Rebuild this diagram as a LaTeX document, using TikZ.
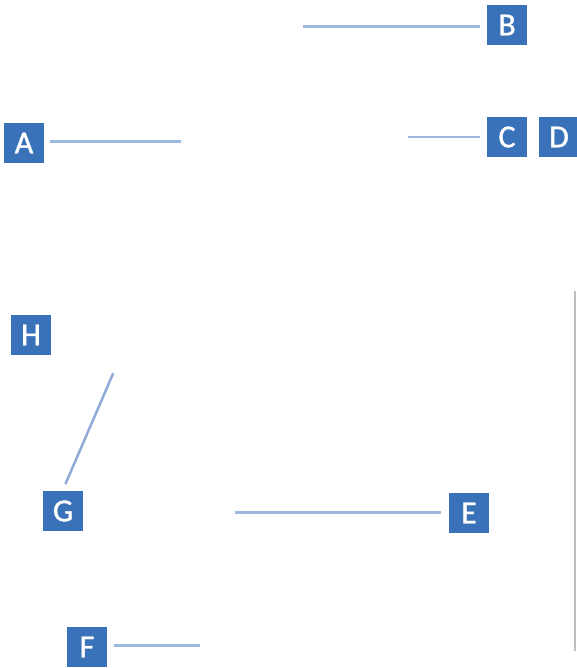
\documentclass[tikz,border=0pt]{standalone}
\usepackage{fontspec}
\setmainfont{Carlito}
\newfontfamily\tagfont[FakeBold=1.2]{Carlito}

\definecolor{tagblue}{HTML}{3A72B9}
\definecolor{leadblue}{HTML}{9DB8DF}
\definecolor{slantblue}{HTML}{91AADA}
\definecolor{rulegray}{HTML}{BDBDBD}

\begin{document}
\begin{tikzpicture}[x=1pt,y=-1pt,
  tag/.style={fill=tagblue,text=white,font=\tagfont\fontsize{32}{32}\selectfont,
              minimum size=40pt,inner sep=0pt},
  leader/.style={draw=leadblue,line width=2.5pt}]
  \useasboundingbox (0,0) rectangle (576,668);

  \node[tag] (A) at (24,143)  {A};
  \node[tag] (B) at (507,25)  {B};
  \node[tag] (C) at (507,137) {C};
  \node[tag] (D) at (559,137) {D};
  \node[tag] (E) at (469,513) {E};
  \node[tag] (F) at (87,647)  {F};
  \node[tag] (G) at (63,511)  {G};
  \node[tag] (H) at (31,335)  {H};

  % free ends of the leaders
  \coordinate (AEND) at (181,141.3);
  \coordinate (BEND) at (302.7,26.3);
  \coordinate (CEND) at (408,137);
  \coordinate (EEND) at (235,512.7);
  \coordinate (FEND) at (200,645.3);
  \coordinate (GEND) at (113.2,373.3);

  \draw[leader,shorten >=6pt]   (AEND) -- (AEND -| A.east);
  \draw[leader,shorten >=6.5pt] (BEND) -- (BEND -| B.west);
  \draw[leader,shorten >=6.5pt] (CEND) -- (CEND -| C.west);
  \draw[leader,shorten >=8pt]   (EEND) -- (EEND -| E.west);
  \draw[leader,shorten >=7pt]   (FEND) -- (FEND -| F.east);
  \draw[leader,draw=slantblue]  ([shift={(2.4,-6.7)}]G.north) -- (GEND);

  % rule at the right edge
  \draw[rulegray,line width=1.5pt] (575.2,291) -- (575.2,651);
\end{tikzpicture}
\end{document}
